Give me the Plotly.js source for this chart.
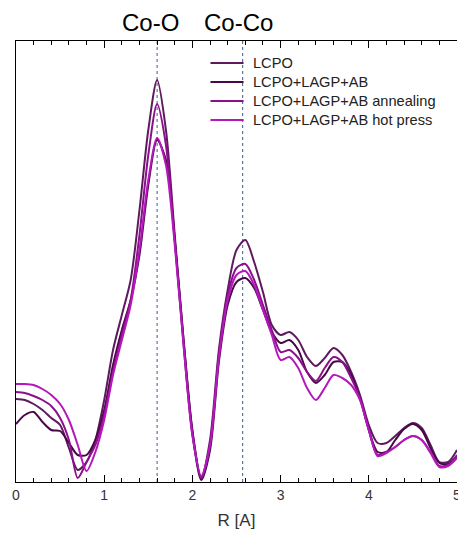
<!DOCTYPE html>
<html>
<head>
<meta charset="utf-8">
<script src="https://cdn.plot.ly/plotly-3.0.1.min.js"></script>
<style>html,body{margin:0;padding:0;background:#fff;overflow:hidden;}#chart{width:458px;height:539px;}</style>
</head>
<body>
<div id="chart"></div>
<script>
const R = [0.0,0.1,0.2,0.3,0.4,0.5,0.6,0.7,0.8,0.9,1.0,1.1,1.2,1.3,1.4,1.5,1.6,1.7,1.8,1.9,2.0,2.1,2.2,2.3,2.4,2.5,2.6,2.7,2.8,2.9,3.0,3.1,3.2,3.3,3.4,3.5,3.6,3.7,3.8,3.9,4.0,4.1,4.2,4.3,4.4,4.5,4.6,4.7,4.8,4.9,5.0];
const seriesNames = ["LCPO","LCPO+LAGP+AB","LCPO+LAGP+AB annealing","LCPO+LAGP+AB hot press"];
const lcpo = [0.83,0.82,0.78,0.72,0.64,0.57,0.34,0.12,0.20,0.42, 0.82,1.32,1.67,2.02,2.72,3.52,4.02,3.52,2.47,1.42, 0.52,0.04,0.42,1.32,1.92,2.32,2.42,2.20,1.90,1.57, 1.47,1.50,1.42,1.25,1.16,1.24,1.34,1.27,1.10,0.87, 0.57,0.39,0.39,0.46,0.54,0.59,0.54,0.37,0.20,0.20, 0.32];
const lagpAB = [0.58,0.67,0.70,0.60,0.52,0.51,0.39,0.27,0.27,0.42, 0.72,1.17,1.52,1.82,2.27,2.97,3.42,3.22,2.42,1.42, 0.50,0.02,0.32,1.20,1.77,2.00,2.04,1.94,1.72,1.50, 1.39,1.42,1.32,1.10,0.99,1.07,1.20,1.20,1.07,0.84, 0.52,0.30,0.30,0.42,0.53,0.58,0.52,0.34,0.19,0.18, 0.26];
const annealing = [0.90,0.89,0.86,0.82,0.76,0.64,0.42,0.04,0.20,0.37, 0.67,1.10,1.47,1.82,2.47,3.27,3.78,3.37,2.42,1.37, 0.47,0.04,0.37,1.27,1.87,2.14,2.18,2.02,1.77,1.52, 1.30,1.32,1.24,1.10,1.01,1.14,1.25,1.20,1.04,0.84, 0.52,0.27,0.30,0.35,0.42,0.46,0.42,0.30,0.16,0.17, 0.27];
const hotPress = [0.98,0.98,0.97,0.93,0.87,0.78,0.62,0.37,0.11,0.30, 0.62,1.07,1.42,1.77,2.32,3.02,3.44,3.17,2.37,1.37, 0.47,0.06,0.37,1.24,1.82,2.07,2.11,1.97,1.72,1.47, 1.22,1.25,1.14,0.94,0.82,0.94,1.07,1.04,0.97,0.82, 0.52,0.26,0.29,0.35,0.42,0.46,0.42,0.29,0.15,0.16, 0.24];
const refPositions = [1.6, 2.57];
const refLabels = ["Co-O", "Co-Co"];
const xTickVals = [0,1,2,3,4,5];

const FONT = "Liberation Sans, Arial, sans-serif";
const colors = ["#5e1a5e","#480848","#8c108c","#b418bc"];
const ys = [lcpo, lagpAB, annealing, hotPress];
const traces = ys.map((y,i)=>({
  x: R, y: y, type: "scatter", mode: "lines", name: seriesNames[i],
  line: {color: colors[i], width: 2, shape: "spline", smoothing: 0.8}, showlegend: false
}));

const shapes = refPositions.map(x=>({
  type: "line", xref: "x", yref: "paper", x0: x, x1: x, y0: 0, y1: 1,
  line: {color: "#3d5a8c", width: 1, dash: "dot"}, layer: "below"
}));
const refShift = [-7, -4];
const annotations = refPositions.map((x,i)=>({
  x: x, xref: "x", y: 1, yref: "paper", yanchor: "bottom", yshift: 3, xshift: refShift[i],
  text: refLabels[i], showarrow: false,
  font: {family: FONT, size: 24, color: "#000"}
}));

// hand-drawn legend (layout styling only)
const legRowY = [0.950, 0.907, 0.864, 0.821];
seriesNames.forEach((n,i)=>{
  shapes.push({type:"line", xref:"paper", yref:"paper", x0:0.441, x1:0.516, y0:legRowY[i], y1:legRowY[i],
    line:{color:colors[i], width:2}});
  annotations.push({x:0.532, xref:"paper", y:legRowY[i], yref:"paper", xanchor:"left", yanchor:"middle",
    text:n, showarrow:false, font:{family:FONT, size:14.6, color:"#222"}});
});

const layout = {
  width: 458, height: 539,
  margin: {l: 16, r: 1, t: 41, b: 57},
  paper_bgcolor: "#fff", plot_bgcolor: "#fff",
  font: {family: FONT, size: 14, color: "#333"},
  showlegend: false,
  xaxis: {
    range: [0, 5], tickvals: xTickVals, ticks: "inside", ticklen: 7, tickcolor: "#000",
    minor: {dtick: 0.2, ticks: "inside", ticklen: 4, tickcolor: "#000"},
    showline: true, linecolor: "#000", linewidth: 1, mirror: "allticks",
    showgrid: false, zeroline: false, ticklabeloverflow: "allow",
    title: {text: "R [A]", font: {size: 17, color: "#333"}, standoff: 12},
    tickfont: {size: 14, color: "#333"}
  },
  yaxis: {
    range: [0, 4.41], showticklabels: false, ticks: "", showgrid: false, zeroline: false,
    showline: true, linecolor: "#000", linewidth: 1, mirror: false
  },
  shapes: shapes,
  annotations: annotations
};
Plotly.newPlot("chart", traces, layout, {displayModeBar: false, staticPlot: true});
</script>
</body>
</html>
